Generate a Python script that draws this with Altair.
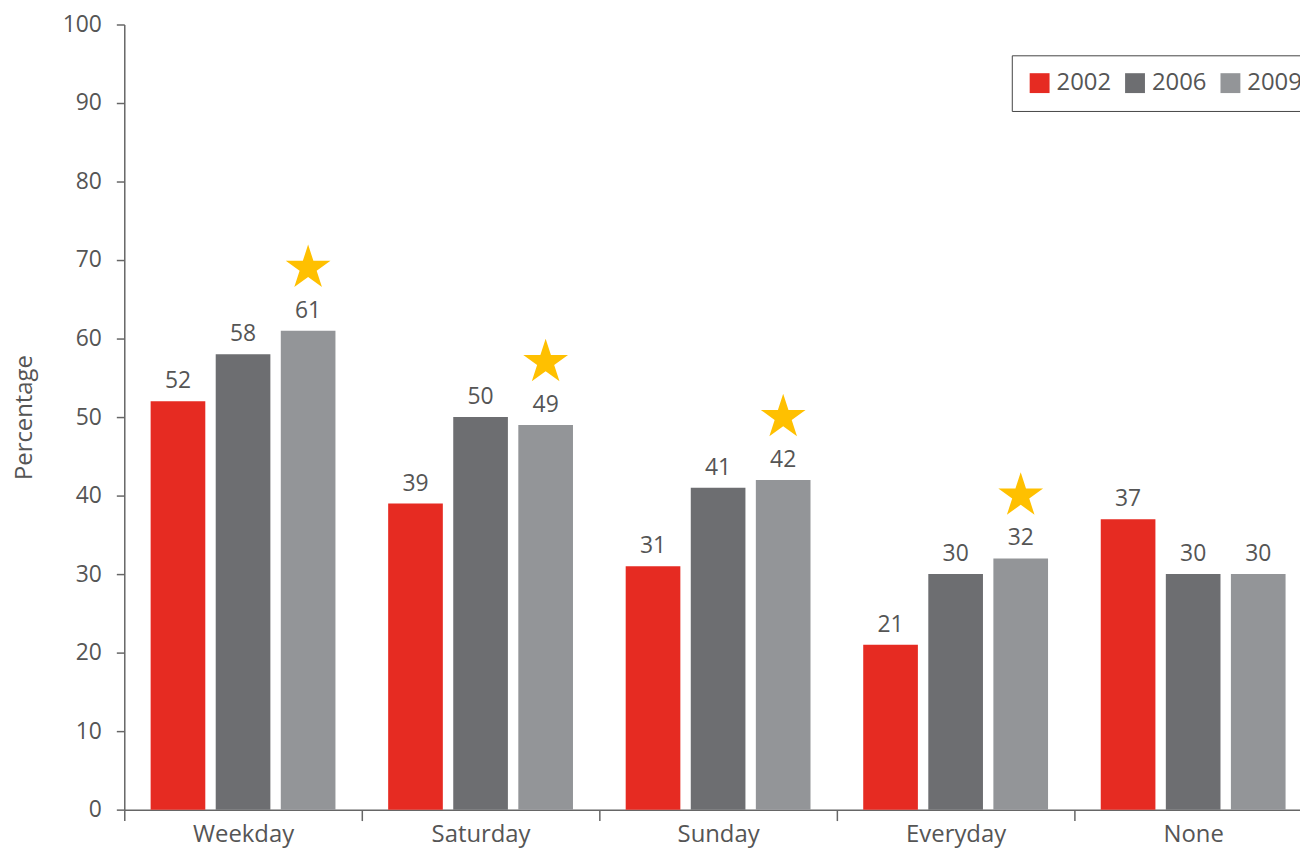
import altair as alt
import pandas as pd

categories = ["Weekday", "Saturday", "Sunday", "Everyday", "None"]
years = ["2002", "2006", "2009"]
v2002 = [52, 39, 31, 21, 37]
v2006 = [58, 50, 41, 30, 30]
v2009 = [61, 49, 42, 32, 30]
star2009 = [1, 1, 1, 1, 0]
colors = ["#E62B22", "#6D6E71", "#939598"]

rows = []
for i, c in enumerate(categories):
    for y, vals in zip(years, [v2002, v2006, v2009]):
        rows.append({"cat": c, "year": y, "value": vals[i],
                     "star": 1 if (star2009[i] == 1 and y == "2009") else 0})
df = pd.DataFrame(rows)

STAR = ("M0,-1L0.2245,-0.309L0.951,-0.309L0.363,0.118L0.588,0.809L0,0.382"
        "L-0.588,0.809L-0.363,0.118L-0.951,-0.309L-0.2245,-0.309Z")

FONT = "Open Sans"
x_enc = alt.X("cat:N", sort=categories, title=None,
              scale=alt.Scale(paddingInner=0, paddingOuter=0),
              axis=alt.Axis(labelAngle=0, tickBand="extent", tickSize=11,
                            labelPadding=2, labelFontSize=24, labelColor="#555",
                            labelFont=FONT, domainColor="#666", tickColor="#666",
                            domainWidth=1.5, tickWidth=1.5, labelBaseline="top"))
xo_enc = alt.XOffset("year:N", sort=years,
                     scale=alt.Scale(paddingInner=0.16, paddingOuter=0.405))
y_enc = alt.Y("value:Q", title="Percentage",
              scale=alt.Scale(domain=[0, 100], nice=False),
              axis=alt.Axis(values=list(range(0, 101, 10)), tickSize=8,
                            labelPadding=15, labelFontSize=23, labelColor="#555",
                            labelFont=FONT, domainColor="#666", tickColor="#666",
                            domainWidth=1.5, tickWidth=1.5, grid=False,
                            titleFont=FONT, titleFontSize=24, titleColor="#555",
                            titleFontWeight="normal", titlePadding=26))

base = alt.Chart(df)

bars = base.mark_bar().encode(
    x=x_enc, xOffset=xo_enc, y=y_enc,
    color=alt.Color("year:N", sort=years,
                    scale=alt.Scale(domain=years, range=colors),
                    legend=alt.Legend(title=None, orient="none", legendX=893,
                                      legendY=31, direction="horizontal",
                                      symbolType="square", symbolSize=400,
                                      labelFontSize=24,
                                      labelFont=FONT, labelColor="#555",
                                      labelOffset=5, columnPadding=12,
                                      padding=16, strokeColor="#444",
                                      fillColor="white")),
)

labels = base.mark_text(baseline="alphabetic", dy=-13, fontSize=23,
                        font=FONT, color="#555").encode(
    x=x_enc, xOffset=xo_enc, y=y_enc, text="value:Q")

stars = base.transform_filter("datum.star == 1").mark_point(
    shape=STAR, filled=True, size=2240, color="#FFC000", opacity=1,
    strokeWidth=0, yOffset=-63).encode(x=x_enc, xOffset=xo_enc, y=y_enc)

chart = alt.layer(bars, labels, stars).properties(
    width=alt.Step(239, **{"for": "position"}), height=790,
    autosize=alt.AutoSizeParams(type="none"),
    padding={"left": 117, "top": 14, "right": -12, "bottom": 36},
).configure_view(stroke=None)

chart.save("out.html", embed_options={"renderer": "svg", "actions": False})
